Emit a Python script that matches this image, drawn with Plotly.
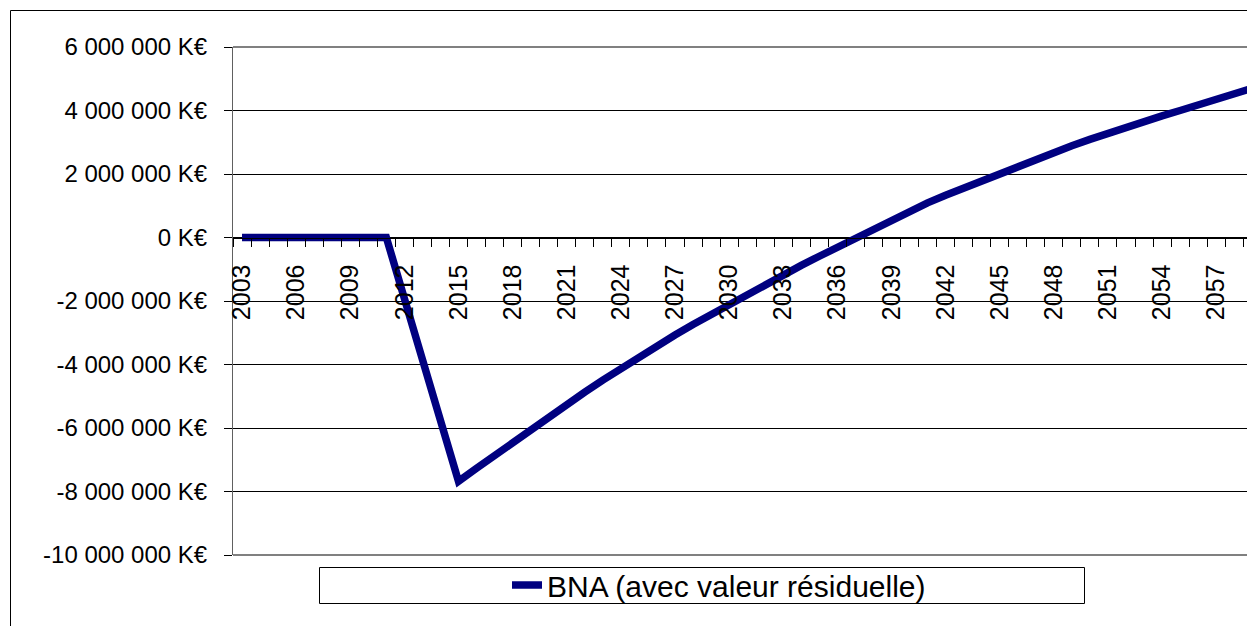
import plotly.graph_objects as go

# ---- data (K€) ----
years = list(range(2003, 2060))
bna_values = [
    0, 0, 0, 0, 0, 0, 0, 0, 0,                     # 2003-2011
    -1920000, -3840000, -5760000, -7680000,        # 2012-2015
    -7270000, -6860000, -6450000, -6040000,        # 2016-2019
    -5640000, -5250000, -4870000, -4490000,        # 2020-2023
    -4120000, -3760000, -3410000, -3070000,        # 2024-2027
    -2740000, -2420000, -2100000, -1790000,        # 2028-2031
    -1480000, -1180000, -880000, -590000,          # 2032-2035
    -300000, -10000, 280000, 560000,               # 2036-2039
    830000, 1090000, 1330000, 1560000,             # 2040-2043
    1790000, 2010000, 2240000, 2460000,            # 2044-2047
    2680000, 2890000, 3090000, 3290000,            # 2048-2051
    3480000, 3660000, 3830000, 4000000,            # 2052-2055
    4170000, 4350000, 4520000, 4700000,            # 2056-2059
]
series_name = "BNA (avec valeur résiduelle)"

xtick_years = list(range(2003, 2060, 3))
xtick_text = [str(y) for y in xtick_years]

ytick_vals = [6000000, 4000000, 2000000, 0, -2000000, -4000000, -6000000, -8000000, -10000000]
ytick_text = ["6 000 000 K€", "4 000 000 K€", "2 000 000 K€", "0 K€", "-2 000 000 K€",
              "-4 000 000 K€", "-6 000 000 K€", "-8 000 000 K€", "-10 000 000 K€"]

# ---- layout geometry (figure sits at page offset 8px because of body margin) ----
OFF = 8
W, H = 1255 - OFF, 626 - OFF
L, R, T, B = 233 - OFF, 0, 47 - OFF, 71
PW, PH = W - L - R, H - T - B


def px(xp):  # page pixel -> paper fraction
    return (xp - OFF - L) / PW


def py(yp):
    return (H - B - (yp - OFF)) / PH


FONT = "Liberation Sans, Arial, sans-serif"

fig = go.Figure()
fig.add_trace(go.Scatter(
    x=years, y=bna_values, mode="lines", name=series_name,
    line=dict(color="#000080", width=7.5),
    showlegend=True,
))

x_lo = 2002.5
x_hi = x_lo + PW / 18.04

fig.update_layout(
    width=W, height=H,
    margin=dict(l=L, r=R, t=T, b=B, pad=0),
    paper_bgcolor="white", plot_bgcolor="white",
    font=dict(family=FONT, color="black"),
    xaxis=dict(
        range=[x_lo, x_hi], anchor="free", position=0.625,
        showgrid=False, zeroline=False,
        showline=True, linecolor="black", linewidth=1,
        tickmode="array", tickvals=xtick_years, ticktext=xtick_text,
        tickangle=-90, ticks="", ticklabelstandoff=16,
        tickfont=dict(family=FONT, size=25, color="black"),
        minor=dict(tickmode="linear", tick0=2002.5, dtick=1, ticks="outside",
                   ticklen=8, tickwidth=1, tickcolor="black", showgrid=False),
        automargin=False,
    ),
    yaxis=dict(
        range=[-10000000, 6000000],
        tickmode="array", tickvals=ytick_vals, ticktext=ytick_text,
        showgrid=True, gridcolor="black", gridwidth=1, zeroline=False,
        showline=True, linecolor="#606060", linewidth=1,
        ticks="outside", ticklen=8, tickwidth=1, tickcolor="black",
        ticklabelstandoff=12,
        tickfont=dict(family=FONT, size=24, color="black"),
        automargin=False,
    ),
    legend=dict(
        orientation="h", x=px(507), xanchor="left", y=py(585), yanchor="middle",
        font=dict(family=FONT, size=30, color="black"),
        bgcolor="rgba(0,0,0,0)", borderwidth=0,
    ),
    shapes=[
        # outer chart border
        dict(type="rect", xref="paper", yref="paper",
             x0=px(10.5), x1=px(1300), y0=py(700), y1=py(10.5),
             line=dict(color="black", width=1), fillcolor="rgba(0,0,0,0)", layer="below"),
        # plot-area top and bottom borders
        dict(type="line", xref="paper", yref="paper", x0=0, x1=1, y0=1, y1=1,
             line=dict(color="#808080", width=2)),
        dict(type="line", xref="paper", yref="paper", x0=0, x1=1, y0=0, y1=0,
             line=dict(color="#808080", width=2)),
        # legend box
        dict(type="rect", xref="paper", yref="paper",
             x0=px(319.5), x1=px(1084.5), y0=py(603.5), y1=py(567.5),
             line=dict(color="black", width=1), fillcolor="rgba(0,0,0,0)"),
    ],
)

fig.write_html("out.html", config={"displayModeBar": False})
